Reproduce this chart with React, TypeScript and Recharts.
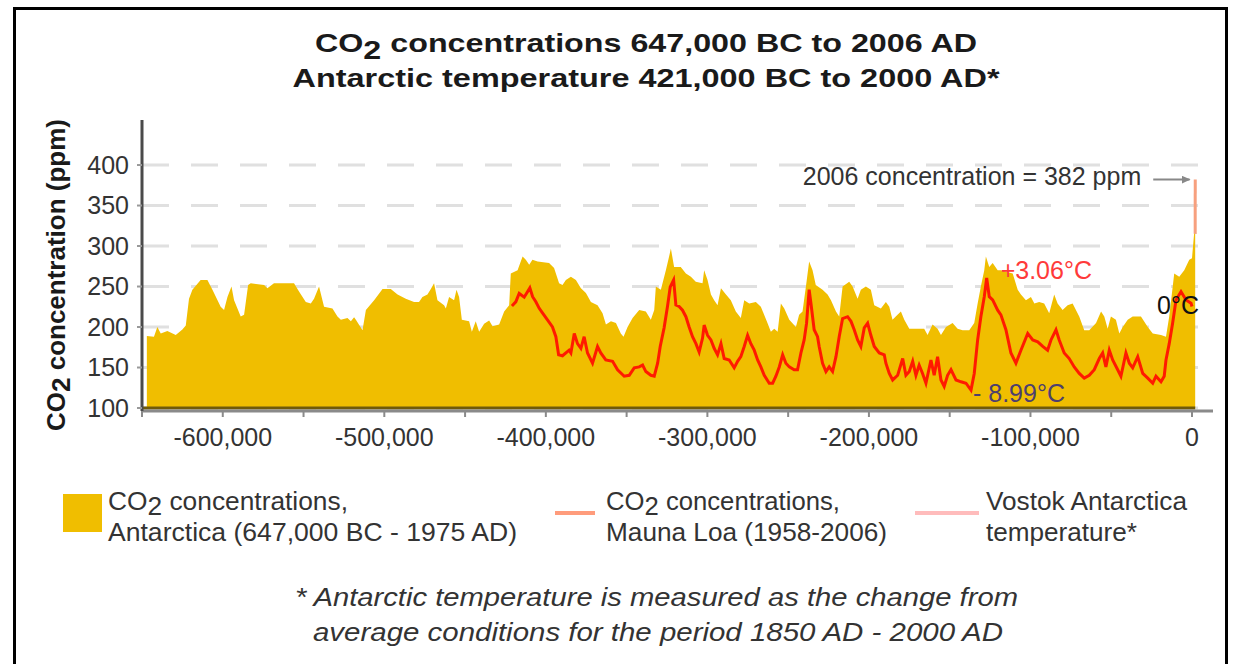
import React from 'react';
import {
  ComposedChart,
  Area,
  Line,
  XAxis,
  YAxis,
  CartesianGrid,
  ReferenceLine,
  ReferenceDot,
} from 'recharts';

// [year (negative = BC), CO2 ppm] — Antarctic ice cores
const antarcticCo2: [number, number][] = [
  [-647000, 189], [-642600, 188], [-640500, 200], [-638400, 192], [-634300, 195], [-629100, 190],
  [-625000, 197], [-622900, 202], [-620900, 235], [-618800, 246], [-613700, 258], [-609500, 258],
  [-606400, 246], [-601300, 225], [-599200, 221], [-597100, 237], [-594600, 250], [-593000, 233],
  [-588900, 213], [-586800, 215], [-584300, 252], [-582700, 254], [-574400, 252], [-572400, 248],
  [-568300, 254], [-555900, 254], [-552800, 244], [-548600, 231], [-545500, 229], [-543500, 235],
  [-540400, 250], [-538300, 233], [-537300, 225], [-532100, 223], [-529000, 213], [-526900, 209],
  [-522800, 211], [-520700, 207], [-518700, 212], [-517600, 209], [-513500, 196], [-511400, 221],
  [-506300, 233], [-501100, 247], [-496000, 247], [-491800, 240], [-486700, 235], [-481600, 231],
  [-478500, 231], [-476400, 237], [-473300, 240], [-471200, 247], [-469200, 254], [-467100, 233],
  [-463000, 227], [-461900, 223], [-459900, 237], [-456800, 233], [-455300, 246], [-453700, 237],
  [-452000, 209], [-447500, 207], [-445800, 194], [-443400, 207], [-441300, 194], [-438200, 204],
  [-435100, 208], [-433000, 201], [-428900, 203], [-425800, 219], [-422700, 227], [-421700, 266],
  [-417500, 270], [-414400, 287], [-412400, 283], [-410300, 277], [-408300, 283], [-405100, 281],
  [-398000, 279], [-394900, 273], [-391800, 254], [-389700, 252], [-387600, 258], [-384500, 262],
  [-381400, 258], [-378300, 248], [-375200, 242], [-372100, 231], [-368000, 227], [-364900, 217],
  [-362800, 203], [-359700, 207], [-356600, 205], [-353600, 192], [-351900, 188], [-349400, 200],
  [-346300, 211], [-342200, 221], [-338100, 219], [-335000, 209], [-332900, 221], [-331900, 250],
  [-328800, 246], [-325700, 270], [-323700, 287], [-322600, 297], [-320600, 274], [-316500, 274],
  [-313300, 266], [-310200, 262], [-307200, 256], [-303000, 254], [-302000, 270], [-299900, 258],
  [-297800, 240], [-295800, 233], [-293700, 227], [-291600, 248], [-288500, 240], [-285500, 233],
  [-282400, 219], [-279300, 211], [-277200, 233], [-274100, 229], [-270000, 231], [-266900, 225],
  [-262800, 205], [-260700, 194], [-258600, 198], [-256500, 194], [-254500, 229], [-252400, 223],
  [-249300, 209], [-245200, 200], [-243200, 215], [-241100, 219], [-239000, 250], [-237000, 281],
  [-234900, 270], [-232900, 252], [-228700, 246], [-225600, 240], [-223500, 233], [-220400, 219],
  [-218400, 213], [-216300, 250], [-212200, 256], [-210100, 250], [-207000, 235], [-205000, 246],
  [-201900, 250], [-198800, 246], [-196700, 227], [-192600, 223], [-189500, 231], [-187400, 225],
  [-185400, 209], [-182300, 215], [-180200, 219], [-178100, 209], [-175000, 198], [-165800, 198],
  [-163700, 190], [-160600, 203], [-157500, 198], [-155400, 190], [-152300, 200], [-148200, 205],
  [-145100, 198], [-142000, 196], [-137900, 196], [-134800, 205], [-132700, 229], [-130700, 250],
  [-128600, 270], [-127600, 287], [-125500, 274], [-123400, 279], [-120300, 270], [-118300, 270],
  [-111000, 266], [-107900, 246], [-105900, 240], [-102800, 233], [-99700, 237], [-97600, 229],
  [-94600, 231], [-91500, 229], [-88400, 217], [-85300, 240], [-83200, 229], [-80100, 221],
  [-77000, 227], [-73900, 229], [-69800, 213], [-66700, 196], [-63600, 196], [-59400, 205],
  [-56300, 219], [-54300, 213], [-52200, 198], [-50200, 213], [-47100, 209], [-45000, 192],
  [-42900, 200], [-39800, 209], [-36700, 213], [-31600, 213], [-27400, 200], [-24300, 192],
  [-19200, 190], [-16100, 188], [-14100, 213], [-11000, 266], [-7900, 262], [-4800, 270],
  [-1700, 283], [0, 285], [1975, 331],
];

// [year, temperature change °C] — Vostok
const vostokTemp: [number, number][] = [
  [-421000, 0.05], [-418600, 0.5], [-416500, 1.4], [-413400, 1.0], [-409900, 2.0], [-408200, 1.05],
  [-406200, 0.5], [-404100, -0.2], [-402100, -0.7], [-399000, -1.45], [-395900, -2.2], [-393800, -3.25],
  [-392100, -5.2], [-389700, -5.3], [-385600, -4.7], [-384500, -5.0], [-382400, -2.9], [-380400, -4.0],
  [-378300, -4.5], [-376300, -3.25], [-374200, -5.0], [-371100, -6.1], [-368000, -4.3], [-366000, -5.0],
  [-362900, -5.75], [-358700, -5.9], [-355600, -6.8], [-351500, -7.5], [-348400, -7.4], [-345300, -6.6],
  [-342200, -6.5], [-340100, -6.3], [-338100, -7.0], [-335000, -7.4], [-332900, -7.5], [-330800, -6.1],
  [-329200, -4.3], [-326800, -2.3], [-324700, 0], [-323000, 2.1], [-320900, 2.85], [-319500, 0.15],
  [-317500, 0], [-315400, -0.4], [-313300, -1.1], [-311300, -2.2], [-309200, -3.25], [-307100, -4.0],
  [-305100, -4.9], [-303000, -3.4], [-302000, -2.0], [-299900, -3.1], [-297800, -3.6], [-295800, -4.5],
  [-293700, -5.2], [-291600, -4.0], [-289600, -5.6], [-286500, -5.75], [-283400, -6.6], [-281300, -5.9],
  [-279300, -5.4], [-277200, -4.3], [-275100, -3.1], [-273100, -4.0], [-271000, -4.7], [-268900, -5.75],
  [-266900, -6.5], [-264800, -7.4], [-261700, -8.25], [-259600, -8.25], [-257600, -7.5], [-255500, -6.5],
  [-253400, -5.2], [-251400, -6.1], [-249300, -6.5], [-246300, -6.8], [-244200, -6.8], [-242100, -5.0],
  [-240100, -3.6], [-238600, -1.8], [-237000, 1.8], [-235900, 0.35], [-233900, -2.5], [-231800, -3.25],
  [-230800, -4.3], [-228700, -6.1], [-226600, -7.0], [-224600, -6.5], [-222500, -7.0], [-220400, -5.4],
  [-218400, -3.25], [-216300, -1.3], [-213200, -1.1], [-211100, -1.6], [-209100, -2.5], [-207000, -3.6],
  [-205000, -4.3], [-202900, -2.3], [-200800, -1.8], [-198800, -3.1], [-196700, -4.3], [-193600, -5.0],
  [-190500, -5.2], [-189500, -6.1], [-187400, -7.2], [-185300, -7.9], [-182200, -7.4], [-179100, -5.6],
  [-177100, -7.4], [-175000, -7.0], [-172900, -5.9], [-170900, -7.4], [-168900, -6.3], [-166800, -7.2],
  [-164700, -8.25], [-161600, -5.75], [-159600, -7.4], [-157500, -5.4], [-155400, -7.9], [-153400, -8.6],
  [-151300, -7.4], [-149200, -6.8], [-146100, -7.9], [-143000, -8.1], [-139900, -8.25], [-136800, -8.99],
  [-134800, -7.2], [-132700, -3.6], [-130700, -1.1], [-128600, 1.05], [-127100, 3.06], [-125500, 1.05],
  [-123400, 0.7], [-120300, -0.4], [-118300, -0.9], [-115200, -2.5], [-112100, -5.0], [-109000, -6.1],
  [-105900, -4.7], [-101700, -2.9], [-98600, -3.6], [-95500, -3.8], [-92400, -4.3], [-89400, -4.7],
  [-87300, -3.6], [-84200, -2.5], [-82200, -3.6], [-79100, -5.0], [-76000, -5.6], [-72900, -6.5],
  [-69800, -7.2], [-66700, -7.7], [-63600, -7.4], [-60500, -6.8], [-57400, -5.6], [-55300, -5.0],
  [-53300, -6.5], [-51200, -4.7], [-49100, -5.75], [-46000, -6.8], [-44000, -7.5], [-40900, -5.0],
  [-38800, -6.1], [-36700, -6.6], [-33600, -5.4], [-30500, -7.2], [-27400, -7.7], [-24300, -8.25],
  [-22300, -7.5], [-19200, -8.1], [-17200, -7.5], [-16100, -5.75], [-14100, -4.0], [-12000, -1.8],
  [-9900, 0.7], [-6800, 1.6], [-3700, 0.7], [-600, 0.35], [0, 0],
];

// [year, CO2 ppm] — Mauna Loa
const maunaLoaCo2: [number, number][] = [[1958, 315], [2006, 382]];

const co2Ticks = [100, 150, 200, 250, 300, 350, 400];
const yearTicks = [
  -650000, -600000, -550000, -500000, -450000, -400000, -350000, -300000,
  -250000, -200000, -150000, -100000, -50000, 0,
];

const titleLines = [
  'CO2 concentrations 647,000 BC to 2006 AD',
  'Antarctic temperature 421,000 BC to 2000 AD*',
];
const yAxisTitle = 'CO2 concentration (ppm)';
const legendItems = [
  { kind: 'square', color: '#f0be00', lines: ['CO2 concentrations,', 'Antarctica (647,000 BC - 1975 AD)'] },
  { kind: 'line', color: '#ff9c7c', lines: ['CO2 concentrations,', 'Mauna Loa (1958-2006)'] },
  { kind: 'line', color: '#ffbcbc', lines: ['Vostok Antarctica', 'temperature*'] },
];
const footnoteLines = [
  '* Antarctic temperature is measured as the change from',
  'average conditions for the period 1850 AD - 2000 AD',
];

const co2Data = antarcticCo2.map(([year, ppm]) => ({ year, ppm }));
const tempData = vostokTemp.map(([year, temp]) => ({ year, temp }));
const maunaData = maunaLoaCo2.map(([year, ppm]) => ({ year, ppm }));

const FONT = "'Liberation Sans', Arial, sans-serif";

const withSub = (text: string, shift: number) => {
  if (text.startsWith('CO2')) {
    return [
      <tspan key="a">CO</tspan>,
      <tspan key="b" dy={shift}>2</tspan>,
      <tspan key="c" dy={-shift}>{text.slice(3)}</tspan>,
    ];
  }
  return text;
};

const maxTemp = vostokTemp.reduce((a, b) => (b[1] > a[1] ? b : a));
const minTemp = vostokTemp.reduce((a, b) => (b[1] < a[1] ? b : a));
const lastTemp = vostokTemp[vostokTemp.length - 1];
const lastMauna = maunaLoaCo2[maunaLoaCo2.length - 1];

const textShape = (
  content: React.ReactNode,
  dx: number,
  dy: number,
  fill: string,
  anchor: 'start' | 'end' | 'middle'
) => (p: any) => (
  <text
    x={p.cx + dx}
    y={p.cy + dy}
    fill={fill}
    fontSize={25}
    fontFamily={FONT}
    textAnchor={anchor}
    dominantBaseline="central"
  >
    {content}
  </text>
);

const legendX = [63, 555, 915];
const legendTextX = [108, 606, 986];
const legendWidths = [[240, 409], [234, 281], [201, 151]];

export default function App() {
  return (
    <div
      style={{
        position: 'absolute',
        left: 0,
        top: 0,
        width: 1238,
        height: 664,
        background: '#fff',
        fontFamily: FONT,
        overflow: 'hidden',
      }}
    >
      <svg
        width={1238}
        height={664}
        style={{ position: 'absolute', left: 0, top: 0 }}
      >
        <defs>
          <marker
            id="arrowHead"
            markerWidth={10}
            markerHeight={10}
            refX={8}
            refY={4}
            orient="auto"
            markerUnits="userSpaceOnUse"
          >
            <path d="M0,0 L9,4 L0,8 Z" fill="#888" />
          </marker>
        </defs>
        <rect x={14.5} y={8.5} width={1212} height={700} fill="none" stroke="#000" strokeWidth={3} />
        {titleLines.map((t, i) => (
          <text
            key={t}
            x={646}
            y={i === 0 ? 52 : 87}
            textAnchor="middle"
            fontSize={26}
            fontWeight="bold"
            fill="#1a1a1a"
            fontFamily={FONT}
            textLength={i === 0 ? 662 : 707}
            lengthAdjust="spacingAndGlyphs"
          >
            {withSub(t, 7)}
          </text>
        ))}
        <text
          transform="translate(65,275) rotate(-90)"
          textAnchor="middle"
          fontSize={26}
          fontWeight="bold"
          fill="#1a1a1a"
          fontFamily={FONT}
        >
          {withSub(yAxisTitle, 5)}
        </text>
        {legendItems.map((item, i) => (
          <g key={i}>
            {item.kind === 'square' ? (
              <rect x={legendX[i]} y={494} width={39} height={38} fill={item.color} />
            ) : (
              <line
                x1={legendX[i]}
                x2={legendX[i] + (i === 1 ? 40 : 64)}
                y1={513}
                y2={513}
                stroke={item.color}
                strokeWidth={4}
              />
            )}
            {item.lines.map((ln, j) => (
              <text
                key={j}
                x={legendTextX[i]}
                y={j === 0 ? 510 : 541}
                fontSize={25}
                fill="#333"
                fontFamily={FONT}
                textLength={legendWidths[i][j]}
                lengthAdjust="spacingAndGlyphs"
              >
                {withSub(ln, 5)}
              </text>
            ))}
          </g>
        ))}
        {footnoteLines.map((ln, j) => (
          <text
            key={j}
            x={j === 0 ? 295 : 313}
            y={j === 0 ? 606 : 641}
            fontSize={25}
            fontStyle="italic"
            fill="#333"
            fontFamily={FONT}
            textLength={j === 0 ? 723 : 690}
            lengthAdjust="spacingAndGlyphs"
          >
            {ln}
          </text>
        ))}
      </svg>
      <div style={{ position: 'absolute', left: 0, top: 0 }}>
        <ComposedChart
          width={1238}
          height={664}
          margin={{ top: 120, right: 25, bottom: 213, left: 62 }}
        >
          <CartesianGrid
            yAxisId="co2"
            vertical={false}
            syncWithTicks
            stroke="#e0e0e0"
            strokeWidth={3}
            strokeDasharray="27 22"
          />
          <XAxis
            type="number"
            dataKey="year"
            domain={[-650000, 13000]}
            ticks={yearTicks}
            interval={0}
            allowDataOverflow
            height={40}
            axisLine={{ stroke: '#8a8a8a', strokeWidth: 3 }}
            tickLine={{ stroke: '#8a8a8a', strokeWidth: 2 }}
            tickSize={6}
            tickMargin={11}
            tick={{ fill: '#333', fontSize: 25, fontFamily: FONT }}
            tickFormatter={(v: number) => (v % 100000 === 0 ? v.toLocaleString('en-US') : '')}
          />
          <YAxis
            yAxisId="co2"
            type="number"
            domain={[96.3, 455.6]}
            ticks={co2Ticks}
            interval={0}
            allowDataOverflow
            width={80}
            axisLine={{ stroke: '#4a4a4a', strokeWidth: 3 }}
            tickLine={{ stroke: '#999', strokeWidth: 2 }}
            tickSize={5}
            tickMargin={8}
            tick={{ fill: '#333', fontSize: 25, fontFamily: FONT }}
          />
          <YAxis yAxisId="temp" hide type="number" domain={[-11.24, 20.05]} allowDataOverflow />
          <Area
            yAxisId="co2"
            data={co2Data}
            dataKey="ppm"
            type="linear"
            fill="#f0be00"
            fillOpacity={1}
            stroke="none"
            baseValue={100}
            isAnimationActive={false}
          />
          <ReferenceLine
            yAxisId="co2"
            segment={[{ x: -650000, y: 100 }, { x: 1975, y: 100 }]}
            stroke="#6f5a0a"
            strokeWidth={3}
          />
          <Line
            yAxisId="temp"
            data={tempData}
            dataKey="temp"
            type="linear"
            stroke="#ff1a00"
            strokeWidth={3}
            strokeLinejoin="miter"
            dot={false}
            isAnimationActive={false}
          />
          <Line
            yAxisId="co2"
            data={maunaData}
            dataKey="ppm"
            type="linear"
            stroke="#f7a07e"
            strokeWidth={3}
            dot={false}
            isAnimationActive={false}
          />
          <ReferenceLine
            yAxisId="co2"
            segment={[{ x: -24000, y: lastMauna[1] }, { x: -1500, y: lastMauna[1] }]}
            stroke="#888"
            strokeWidth={2}
            markerEnd="url(#arrowHead)"
          />
          <ReferenceDot
            yAxisId="co2"
            x={lastMauna[0]}
            y={lastMauna[1]}
            r={0}
            shape={textShape(`${lastMauna[0]} concentration = ${lastMauna[1]} ppm`, -54, -4, '#333', 'end')}
          />
          <ReferenceDot
            yAxisId="temp"
            x={maxTemp[0]}
            y={maxTemp[1]}
            r={0}
            shape={textShape(`+${maxTemp[1].toFixed(2)}°C`, 14, -8, '#ff3a3a', 'start')}
          />
          <ReferenceDot
            yAxisId="temp"
            x={minTemp[0]}
            y={minTemp[1]}
            r={0}
            shape={textShape(`- ${Math.abs(minTemp[1]).toFixed(2)}°C`, 2, 3, '#4d3f6e', 'start')}
          />
          <ReferenceDot
            yAxisId="temp"
            x={lastTemp[0]}
            y={lastTemp[1]}
            r={0}
            shape={textShape(`${lastTemp[1]}°C`, 7, -1, '#111', 'end')}
          />
        </ComposedChart>
      </div>
    </div>
  );
}
